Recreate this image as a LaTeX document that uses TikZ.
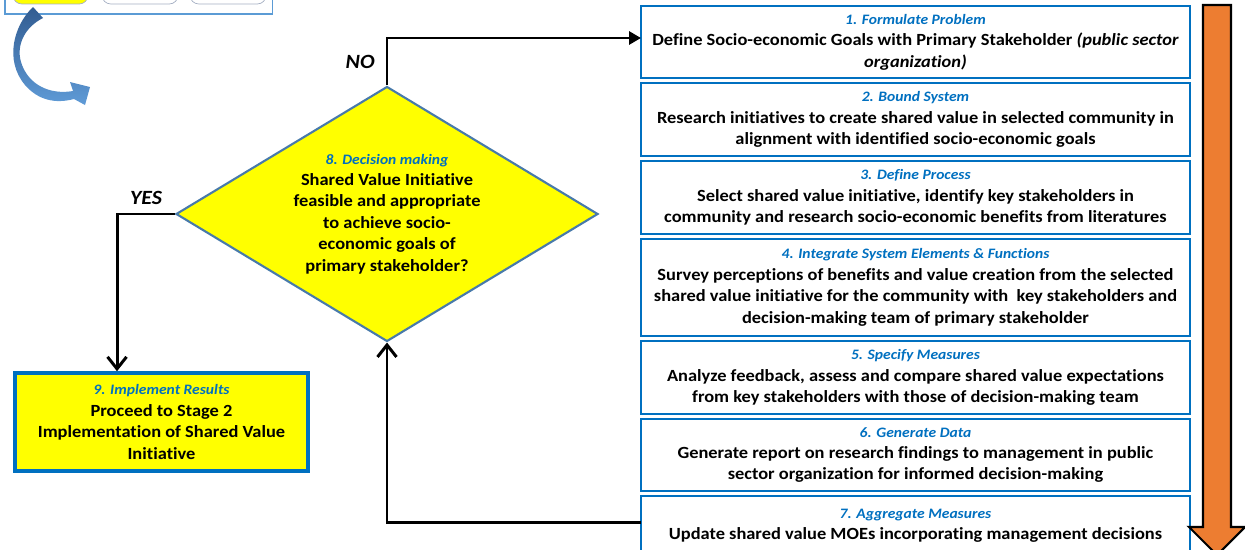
\documentclass[tikz,border=0pt]{standalone}
\usepackage{fontspec}
\setmainfont{Carlito}[FakeStretch=1.08, Ligatures={NoCommon,NoContextual}]
\usetikzlibrary{shapes.geometric, arrows.meta, positioning, calc}
\definecolor{stepblue}{RGB}{0,112,192}
\definecolor{decyellow}{RGB}{255,255,0}
\definecolor{decedge}{RGB}{72,122,170}
\definecolor{flowarrow}{RGB}{237,125,49}
\definecolor{paneblue}{RGB}{91,155,213}
\definecolor{tabgray}{RGB}{165,175,195}
\definecolor{curlydark}{RGB}{50,92,145}
\definecolor{curlylight}{RGB}{95,155,215}
\newcommand{\steptitle}[1]{{\fontsize{8.2}{10}\selectfont\itshape\color{stepblue}#1}}
\tikzset{
    stepbox/.style={rectangle, draw=stepblue, line width=1.6pt, fill=white,
                    minimum width=10.98cm, align=center, inner sep=2pt,
                    outer sep=0pt, font=\fontsize{9.7}{12.2}\selectfont\bfseries},
    decision/.style={diamond, draw=decedge, line width=1.2pt, fill=decyellow,
                     minimum width=8.44cm, minimum height=5.1cm, inner sep=0pt,
                     aspect=1.65, align=center,
                     font=\fontsize{9.7}{12.2}\selectfont\bfseries},
    implbox/.style={rectangle, draw=stepblue, line width=2pt, fill=decyellow,
                    minimum width=5.86cm, minimum height=1.96cm, align=center,
                    font=\fontsize{9.7}{12.2}\selectfont\bfseries},
    flow/.style={line width=1.7pt, black},
    answer/.style={font=\fontsize{11.5}{14}\selectfont\bfseries\itshape},
}

\begin{document}
\begin{tikzpicture}
    \useasboundingbox (0,0) rectangle (24.9,-11);
    \clip (0,0) rectangle (24.9,-11);

    % Previous stage strip and curved arrow
    \begin{scope}[x=0.02cm, y=-0.02cm]
        \draw[paneblue, line width=0.6pt] (5,-20) rectangle (272,14);
        \draw[tabgray, fill=decyellow, rounded corners=5pt] (13,-20) rectangle (88,4);
        \draw[tabgray, fill=white, rounded corners=5pt] (102,-20) rectangle (178,4);
        \draw[tabgray, fill=white, rounded corners=5pt] (190,-20) rectangle (266,4);
        \shade[top color=curlydark, bottom color=curlylight]
            (33,7) .. controls (14,25) and (4,60) .. (25,85)
            .. controls (38,100) and (55,104) .. (74,99)
            -- (85,105) -- (90,87) -- (70,82) -- (73,91)
            .. controls (50,95) and (28,85) .. (21,62)
            .. controls (16,45) and (25,27) .. (43,18) -- cycle;
    \end{scope}

    % Steps 1-7
    \node[stepbox, minimum height=1.44cm] (box1) at (18.31,-0.84)
        {\steptitle{1. Formulate Problem}\\
         Define Socio-economic Goals with Primary Stakeholder \textit{(public sector}\\
         \textit{organization)}};
    \node[stepbox, minimum height=1.46cm, below=0.1cm of box1] (box2)
        {\steptitle{2. Bound System}\\
         Research initiatives to create shared value in selected community in\\
         alignment with identified socio-economic goals};
    \node[stepbox, minimum height=1.46cm, below=0.1cm of box2] (box3)
        {\steptitle{3. Define Process}\\
         Select shared value initiative, identify key stakeholders in\\
         community and research socio-economic benefits from literatures};
    \node[stepbox, minimum height=1.94cm, below=0.1cm of box3] (box4)
        {\steptitle{4. Integrate System Elements \& Functions}\\
         Survey perceptions of benefits and value creation from the selected\\
         shared value initiative for the community with\ \ key stakeholders and\\
         decision-making team of primary stakeholder};
    \node[stepbox, minimum height=1.46cm, below=0.1cm of box4] (box5)
        {\steptitle{5. Specify Measures}\\
         Analyze feedback, assess and compare shared value expectations\\
         from key stakeholders with those of decision-making team};
    \node[stepbox, minimum height=1.44cm, below=0.1cm of box5] (box6)
        {\steptitle{6. Generate Data}\\
         Generate report on research findings to management in public\\
         sector organization for informed decision-making};
    \node[stepbox, minimum height=1.18cm, below=0.1cm of box6] (box7)
        {\steptitle{7. Aggregate Measures}\\
         Update shared value MOEs incorporating management decisions};

    % Decision and result
    \node[decision] (dec) at (7.74,-4.28)
        {\steptitle{8. Decision making}\\
         Shared Value Initiative\\
         feasible and appropriate\\
         to achieve socio-\\
         economic goals of\\
         primary stakeholder?};
    \node[implbox] (impl) at (3.23,-8.44)
        {\steptitle{9. Implement Results}\\
         Proceed to Stage 2\\
         Implementation of Shared Value\\
         Initiative};

    % Process direction
    \draw[black, line width=1.2pt, fill=flowarrow]
        (24.06,-0.1) -- (24.62,-0.1) -- (24.62,-10.54) -- (24.9,-10.54)
        -- (24.34,-11.1) -- (23.78,-10.54) -- (24.06,-10.54) -- cycle;

    % Connectors
    \draw[flow, -{Triangle[length=2.4mm, width=2.6mm]}]
        (dec.north) |- ([yshift=0.08cm]box1.west)
        node[pos=0.25, left, answer, xshift=-0.1cm] {NO};
    \draw[flow, -{Straight Barb[length=2.4mm, width=3.8mm]}]
        (dec.west) -| ($(impl.north west)!0.35!(impl.north east)$)
        node[pos=0.25, above, answer, yshift=0.05cm] {YES};
    \draw[flow, -{Straight Barb[length=2.4mm, width=3.8mm]}]
        ([yshift=0.06cm]box7.west) -| (dec.south);
\end{tikzpicture}
\end{document}
